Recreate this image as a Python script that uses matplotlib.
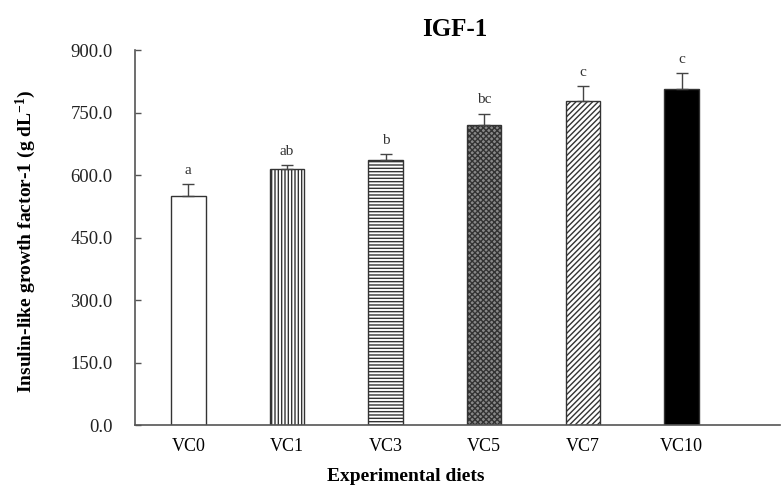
import numpy as np
import matplotlib.pyplot as plt

plt.rcParams['font.family'] = ['Liberation Serif', 'DejaVu Serif']
plt.rcParams['hatch.linewidth'] = 1.0
plt.rcParams['mathtext.fontset'] = 'custom'
plt.rcParams['mathtext.rm'] = 'Liberation Serif:bold'
plt.rcParams['mathtext.default'] = 'rm'

# Data
diets = ['VC0', 'VC1', 'VC3', 'VC5', 'VC7', 'VC10']
igf1 = [549, 614, 636, 720, 778, 806]
sd = [29, 10, 14, 28, 36, 39]
letters = ['a', 'ab', 'b', 'bc', 'c', 'c']

hatches = ['', '|||||', '-----', 'xxxxxx', '//////', '']
faces = ['white', 'white', 'white', '#888888', 'white', 'black']

fig = plt.figure(figsize=(7.83, 4.88), dpi=100)
ax = fig.add_axes([0.1724, 0.129, 0.824, 0.768])

x = np.arange(len(diets))
for i in range(len(diets)):
    ax.bar(x[i], igf1[i], width=0.35, color=faces[i], edgecolor='#333333',
           hatch=hatches[i], linewidth=1.0, zorder=2)
ax.errorbar(x, igf1, yerr=[np.zeros(len(sd)), sd], fmt='none', ecolor='#444444',
            elinewidth=1.0, capsize=4, capthick=1.0, zorder=3)
for i in range(len(diets)):
    ax.text(x[i], igf1[i] + sd[i] + 18, letters[i], ha='center', va='bottom',
            fontsize=11, color='#333333')

ax.set_xlim(-0.54, 6.0)
ax.set_ylim(0, 900)
ax.set_yticks(np.arange(0, 901, 150))
ax.set_yticklabels([f'{v:.1f}' for v in np.arange(0, 901, 150)], fontsize=13.5)
ax.set_xticks(x)
ax.set_xticklabels(diets, fontsize=13)
ax.tick_params(axis='x', length=0, pad=9)
ax.tick_params(axis='y', length=4, direction='in', width=1.0, colors='#555555',
               pad=16, labelcolor='#222222')

for s in ['top', 'right']:
    ax.spines[s].set_visible(False)
for s in ['left', 'bottom']:
    ax.spines[s].set_color('#555555')
    ax.spines[s].set_linewidth(1.2)

ax.set_xlabel('Experimental diets', fontsize=14, fontweight='bold')
ax.xaxis.set_label_coords(0.42, -0.115)
ax.set_ylabel('Insulin-like growth factor-1 (g dL$^{-1}$)', fontsize=14,
              fontweight='bold')
ax.yaxis.set_label_coords(-0.15, 0.49)
ax.set_title('IGF-1', fontsize=18, fontweight='bold', x=0.496, pad=10)

fig.savefig('out.png', dpi=100)
